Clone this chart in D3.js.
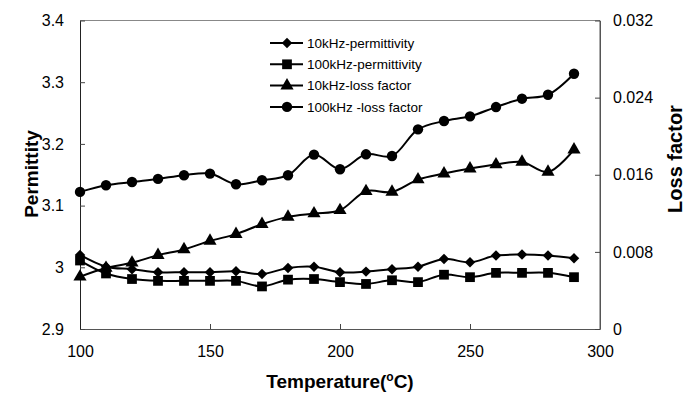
<!DOCTYPE html>
<html><head><meta charset="utf-8">
<script src="https://cdn.jsdelivr.net/npm/d3@7"></script>
<style>body{margin:0;background:#fff}svg{display:block}text{font-family:"Liberation Sans",Arial,sans-serif;fill:#000}</style>
</head><body>
<svg id="c" width="686" height="393"></svg>
<script>
const temperatures = [100,110,120,130,140,150,160,170,180,190,200,210,220,230,240,250,260,270,280,290];
const perm10k  = [3.020,3.001,2.997,2.992,2.992,2.992,2.9935,2.989,2.999,3.001,2.992,2.993,2.997,3.001,3.0136,3.008,3.019,3.0206,3.019,3.0146];
const perm100k = [3.011,2.990,2.981,2.978,2.978,2.978,2.978,2.969,2.980,2.981,2.976,2.973,2.979,2.976,2.988,2.984,2.991,2.991,2.991,2.984];
const loss10k  = [0.00542,0.00632,0.00687,0.00766,0.00825,0.00914,0.00984,0.01087,0.01163,0.01198,0.01232,0.01429,0.01422,0.01550,0.01612,0.01664,0.01706,0.01733,0.01629,0.01861];
const loss100k = [0.01422,0.01491,0.01525,0.01557,0.01595,0.01612,0.01502,0.01543,0.01595,0.01809,0.01657,0.01812,0.01795,0.02071,0.02157,0.02206,0.02302,0.02389,0.02430,0.02648];
const xTicks = [100,150,200,250,300];
const permTicks = [2.9,3.0,3.1,3.2,3.3,3.4];
const lossTicks = [0,0.008,0.016,0.024,0.032];
const seriesNames = ["10kHz-permittivity","100kHz-permittivity","10kHz-loss factor","100kHz -loss factor"];
const seriesSymbols = ["diamond","square","triangle","circle"];

const svg = d3.select("#c");
const L=80,R=600,T=20.5,B=329;
const x = d3.scaleLinear().domain([100,300]).range([L,R]);
const yP = d3.scaleLinear().domain([2.9,3.4]).range([B,T]);
const yL = d3.scaleLinear().domain([0,0.032]).range([B,T]);

// frame
svg.append("line").attr("x1",L).attr("x2",R).attr("y1",T).attr("y2",T).attr("stroke","#888").attr("stroke-width",1);
svg.append("line").attr("x1",R).attr("x2",R).attr("y1",T).attr("y2",B).attr("stroke","#555").attr("stroke-width",1);

const gx = svg.append("g").attr("transform",`translate(0,${B})`)
  .call(d3.axisBottom(x).tickValues(xTicks).tickSizeInner(-5).tickSizeOuter(0).tickPadding(17).tickFormat(d3.format("d")));
const gl = svg.append("g").attr("transform",`translate(${L},0)`)
  .call(d3.axisLeft(yP).tickValues(permTicks).tickSizeInner(-5).tickSizeOuter(0).tickPadding(16).tickFormat(d=>d===3?"3":d3.format(".1f")(d)));
const gr = svg.append("g").attr("transform",`translate(${R},0)`)
  .call(d3.axisRight(yL).tickValues(lossTicks).tickSizeInner(-5).tickSizeOuter(0).tickPadding(13).tickFormat(d=>d===0?"0":d3.format(".3f")(d)));
[gx,gl,gr].forEach(g=>{g.selectAll("text").attr("font-size",16).style("font-family","Liberation Sans, Arial, sans-serif").attr("fill","#000");});
gx.select(".domain").attr("stroke","#555");
gl.select(".domain").attr("stroke","#222");
gr.select(".domain").attr("stroke","#555");
[gx,gl,gr].forEach(g=>g.selectAll(".tick line").attr("stroke","#444"));

const line = yf => d3.line().x((d,i)=>x(temperatures[i])).y(d=>yf(d)).curve(d3.curveCatmullRom.alpha(0.5));
const sym = {
  diamond: d3.symbol().type(d3.symbolDiamond2).size(70),
  square: d3.symbol().type(d3.symbolSquare).size(95),
  triangle: d3.symbol().type(d3.symbolTriangle).size(75),
  circle: d3.symbol().type(d3.symbolCircle).size(85)
};
const data = [[perm10k,yP],[perm100k,yP],[loss10k,yL],[loss100k,yL]];
data.forEach(([vals,ys],k)=>{
  svg.append("path").datum(vals).attr("d",line(ys)).attr("fill","none").attr("stroke","#000").attr("stroke-width",2);
  svg.append("g").selectAll("path").data(vals).join("path")
    .attr("transform",(d,i)=>`translate(${x(temperatures[i])},${ys(d)})`)
    .attr("d",sym[seriesSymbols[k]]).attr("fill","#000");
});

// legend
const lg = svg.append("g");
seriesNames.forEach((n,i)=>{
  const yy = 43 + i*21.3;
  lg.append("line").attr("x1",270).attr("x2",303).attr("y1",yy).attr("y2",yy).attr("stroke","#000").attr("stroke-width",2);
  lg.append("path").attr("transform",`translate(287,${yy})`).attr("d",sym[seriesSymbols[i]]).attr("fill","#000");
  lg.append("text").attr("x",307).attr("y",yy).attr("dy","0.35em").attr("font-size",13.5).text(n);
});

// axis titles
svg.append("text").attr("x",340).attr("y",388).attr("text-anchor","middle").attr("font-weight","bold").attr("font-size",19)
  .html('Temperature(<tspan font-size="12" dy="-7">o</tspan><tspan dy="7">C)</tspan>');
svg.append("text").attr("transform","translate(38,174) rotate(-90)").attr("text-anchor","middle").attr("font-weight","bold").attr("font-size",19).text("Permittity");
svg.append("text").attr("transform","translate(682,159) rotate(-90)").attr("text-anchor","middle").attr("font-weight","bold").attr("font-size",20).text("Loss factor");
</script>
</body></html>
